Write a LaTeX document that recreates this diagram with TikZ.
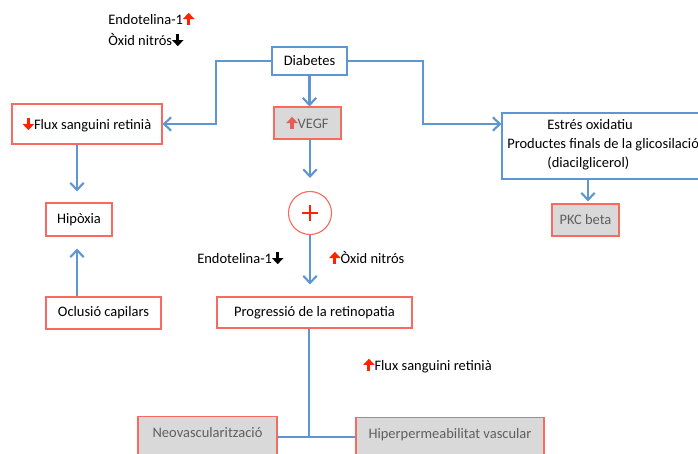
\documentclass[tikz,border=0pt]{standalone}
\usepackage{fontspec}
\setmainfont{Carlito}
\usetikzlibrary{arrows.meta}

\definecolor{linkblue}{RGB}{93,150,208}
\definecolor{boxred}{RGB}{250,105,95}
\definecolor{arrred}{RGB}{255,35,0}
\definecolor{softred}{RGB}{228,95,90}
\definecolor{boxgray}{RGB}{217,217,217}
\definecolor{txtgray}{RGB}{95,95,95}

\newcommand{\pxu}{0.025cm}
% small block arrows next to the labels
\newcommand{\uparr}[1]{\tikz[baseline=0pt]\draw[#1,line width=2.2pt,-{Triangle[length=4.4pt,width=8pt]}] (0,-0.6pt) -- (0,8.2pt);}
\newcommand{\dnarr}[1]{\tikz[baseline=0pt]\draw[#1,line width=2.2pt,-{Triangle[length=4.4pt,width=8pt]}] (0,8.2pt) -- (0,-0.6pt);}

\tikzset{
  redbox/.style={draw=boxred, line width=0.8pt, fill=white, inner sep=0pt},
  graybox/.style={redbox, fill=boxgray, text=txtgray},
  bluebox/.style={draw=linkblue, line width=0.8pt, fill=white, inner sep=0pt},
  link/.style={draw=linkblue, line width=1.5pt},
  linkarr/.style={link, -{Straight Barb[length=5pt,width=9.5pt]}},
  note/.style={anchor=west, inner sep=0pt}
}

\begin{document}
\begin{tikzpicture}[x=0.025cm, y=-0.025cm, font=\fontsize{10.3}{13.5}\selectfont]
	\useasboundingbox (0,0) rectangle (698,454);
	\clip (0,0) rectangle (698,454);
	\fill[white] (0,0) rectangle (698,454);

	% boxes
	\node[bluebox, minimum width=75*\pxu, minimum height=28*\pxu] (diab) at (309.5,61) {Diabetes};
	\node[redbox, minimum width=150*\pxu, minimum height=40*\pxu] (flux) at (87,124) {\dnarr{arrred}Flux sanguini retinià};
	\node[redbox, minimum width=66*\pxu, minimum height=33*\pxu] (hipo) at (79,219.5) {Hipòxia};
	\node[redbox, minimum width=115*\pxu, minimum height=32*\pxu] (oclu) at (103.5,313) {Oclusió capilars};
	\node[graybox, minimum width=67*\pxu, minimum height=32*\pxu] (vegf) at (307.5,123) {\uparr{softred}VEGF};
	\node[circle, draw=boxred, line width=0.8pt, minimum size=43*\pxu, inner sep=0pt,
	      path picture={\draw[arrred, line width=2pt]
	        ([xshift=-5.6pt]path picture bounding box.center) -- ([xshift=5.6pt]path picture bounding box.center)
	        ([yshift=-5.6pt]path picture bounding box.center) -- ([yshift=5.6pt]path picture bounding box.center);}]
	      (plus) at (310,213) {};
	\node[bluebox, minimum width=218*\pxu, minimum height=66*\pxu] (estres) at (611,146) {};
	\node[anchor=west, align=left, inner sep=0pt] (estrestxt) at (507,144.5)
	  {\hspace*{28.5pt}Estrés oxidatiu\\Productes finals de la glicosilació\\\hspace*{28.5pt}(diacilglicerol)};
	\node[graybox, minimum width=67*\pxu, minimum height=32*\pxu] (pkc) at (585.5,220) {PKC beta};
	\node[redbox, minimum width=195*\pxu, minimum height=31*\pxu] (prog) at (314.5,312.5) {Progressió de la retinopatia};
	\node[graybox, anchor=north, minimum width=139*\pxu, text height=21*\pxu, text depth=34*\pxu] (neo) at (207.5,416) {Neovascularització};
	\node[graybox, anchor=north, minimum width=188*\pxu, text height=21*\pxu, text depth=34*\pxu] (hip) at (450,417) {Hiperpermeabilitat vascular};

	% free labels
	\node[note] (endo1) at (108,19) {Endotelina-1\uparr{arrred}};
	\node[note] (oxid1) at (108,40) {Òxid nitrós\dnarr{black}};
	\node[note] (endo2) at (197,258) {Endotelina-1\dnarr{black}};
	\node[note] (oxid2) at (329,258) {\uparr{arrred}Òxid nitrós};
	\node[note] (flux2) at (363,365) {\uparr{arrred}Flux sanguini retinià};

	% connectors
	\coordinate (lbend) at (216,124);
	\coordinate (rbend) at (423,124);
	\coordinate (join) at (309,437);
	\draw[linkarr] (diab.west) -| (lbend) -- (flux.east);
	\draw[linkarr] (diab.east) -| (rbend) -- (estres.west |- rbend);
	\draw[linkarr] (diab.south) -- (vegf.north -| diab.south);
	\draw[linkarr, shorten >=13*\pxu] (vegf.south -| plus.north) -- (plus.north);
	\draw[linkarr, shorten >=12*\pxu] (plus.south) -- (plus.south |- prog.north);
	\draw[linkarr, shorten >=11*\pxu] (flux.south -| 77,0) -- (hipo.north -| 77,0);
	\draw[linkarr, shorten >=12*\pxu] (oclu.north -| 77,0) -- (hipo.south -| 77,0);
	\draw[linkarr, shorten >=2*\pxu] (estres.south -| 588,0) -- (pkc.north -| 588,0);
	\draw[link] (prog.south -| join) -- (join);
	\draw[link] (neo.east |- join) -- (hip.west |- join);
\end{tikzpicture}
\end{document}
